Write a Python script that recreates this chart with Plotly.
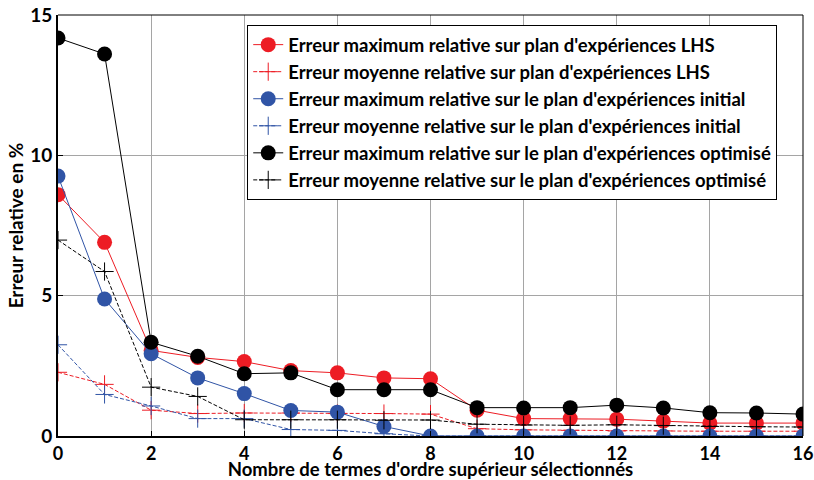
import plotly.graph_objects as go

# nombre de termes d'ordre supérieur sélectionnés
termes = list(range(17))

lhs_max = [8.6, 6.9, 3.05, 2.8, 2.65, 2.33, 2.25, 2.07, 2.04, 0.92, 0.62, 0.62, 0.6, 0.53, 0.46, 0.46, 0.46]
lhs_moy = [2.27, 1.84, 0.92, 0.8, 0.82, 0.82, 0.8, 0.8, 0.78, 0.26, 0.22, 0.2, 0.18, 0.18, 0.17, 0.17, 0.17]
init_max = [9.26, 4.88, 2.93, 2.07, 1.51, 0.91, 0.85, 0.34, 0, 0, 0, 0, 0, 0, 0, 0, 0]
init_moy = [3.25, 1.48, 1.07, 0.62, 0.62, 0.23, 0.2, 0.08, 0, 0, 0, 0, 0, 0, 0, 0, 0]
opt_max = [14.18, 13.61, 3.34, 2.84, 2.22, 2.25, 1.65, 1.65, 1.65, 1.01, 1.0, 1.01, 1.1, 1.0, 0.83, 0.82, 0.78]
opt_moy = [6.98, 5.86, 1.74, 1.41, 0.58, 0.58, 0.58, 0.56, 0.57, 0.42, 0.39, 0.38, 0.4, 0.37, 0.34, 0.33, 0.32]

noms = [
    "Erreur maximum relative sur plan d'expériences LHS",
    "Erreur moyenne relative sur plan d'expériences LHS",
    "Erreur maximum relative sur le plan d'expériences initial",
    "Erreur moyenne relative sur le plan d'expériences initial",
    "Erreur maximum relative sur le plan d'expériences optimisé",
    "Erreur moyenne relative sur le plan d'expériences optimisé",
]

ROUGE = "rgb(237,28,36)"
BLEU = "rgb(48,84,166)"
NOIR = "black"

series = [
    (lhs_max, ROUGE, "max"),
    (lhs_moy, ROUGE, "moy"),
    (init_max, BLEU, "max"),
    (init_moy, BLEU, "moy"),
    (opt_max, NOIR, "max"),
    (opt_moy, NOIR, "moy"),
]

fig = go.Figure()
for (vals, col, kind), nom in zip(series, noms):
    if kind == "max":
        fig.add_trace(go.Scatter(
            x=termes, y=vals, name=nom, mode="lines+markers",
            line=dict(color=col, width=1),
            marker=dict(symbol="circle", size=15, color=col),
        ))
    else:
        fig.add_trace(go.Scatter(
            x=termes, y=vals, name=nom, mode="lines+markers",
            line=dict(color=col, width=1, dash="4px,2px"),
            marker=dict(symbol="cross-thin", size=13, line=dict(color=col, width=1)),
        ))

police = "Lato, 'Open Sans', sans-serif"

fig.update_layout(
    width=814, height=480,
    margin=dict(l=58, r=11, t=15, b=44),
    plot_bgcolor="white", paper_bgcolor="white",
    font=dict(family=police, color="black", size=16, weight="bold"),
    showlegend=True,
    legend=dict(
        x=0.254, y=0.976, xanchor="left", yanchor="top",
        bgcolor="white", bordercolor="black", borderwidth=1,
        font=dict(family=police, size=18.5, weight="bold"),
        tracegroupgap=0, itemwidth=30,
    ),
)
fig.update_xaxes(
    range=[0, 16], tickvals=list(range(0, 17, 2)),
    automargin=False, ticklabeloverflow="allow",
    showgrid=True, gridcolor="rgb(165,165,165)", gridwidth=1,
    showline=True, linecolor="black", linewidth=2,
    ticks="inside", ticklen=5, tickcolor="black",
    zeroline=False,
    tickfont=dict(size=18, weight="bold"),
    title=dict(text="Nombre de termes d'ordre supérieur sélectionnés", standoff=0,
               font=dict(size=18.5, weight="bold")),
)
fig.update_yaxes(
    range=[0, 15], tickvals=[0, 5, 10, 15],
    automargin=False, ticklabeloverflow="allow",
    showgrid=True, gridcolor="rgb(165,165,165)", gridwidth=1,
    showline=True, linecolor="black", linewidth=2,
    ticks="inside", ticklen=5, tickcolor="black",
    zeroline=False,
    tickfont=dict(size=19, weight="bold"),
    title=dict(text="Erreur relative en %", standoff=2,
               font=dict(size=19, weight="bold")),
)
# cadre fin en haut et à droite
fig.add_shape(type="line", xref="paper", yref="paper", x0=0, x1=1, y0=1, y1=1,
              line=dict(color="black", width=1))
fig.add_shape(type="line", xref="paper", yref="paper", x0=1, x1=1, y0=0, y1=1,
              line=dict(color="black", width=1))

# enlever la marge par défaut de la page pour que la figure remplisse la fenêtre
fig.write_html("out.html", config={"displayModeBar": False},
               post_script="document.body.style.margin='0';document.body.style.overflow='hidden';")
